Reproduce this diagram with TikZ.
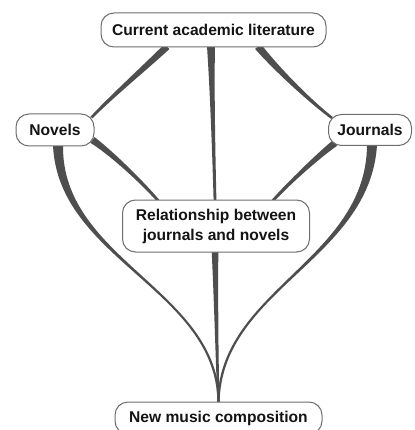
\documentclass[tikz,border=0pt]{standalone}
\usepackage{fontspec}
\setmainfont{Liberation Sans}
\usetikzlibrary{calc,backgrounds}
\definecolor{connc}{RGB}{78,78,78}
\definecolor{boxc}{RGB}{110,110,110}
\definecolor{txtc}{RGB}{20,20,20}
% tapered connector: #1 start, #2 ctrl1, #3 ctrl2, #4 end, #5-#8 half widths
\newcommand\taper[8]{%
  \fill[conn] ($(#1)!#5!90:(#2)$) .. controls ($(#2)!#6!-90:(#1)$) and ($(#3)!#7!90:(#4)$) .. ($(#4)!#8!-90:(#3)$)
    -- ($(#4)!#8!90:(#3)$) .. controls ($(#3)!#7!-90:(#4)$) and ($(#2)!#6!90:(#1)$) .. ($(#1)!#5!-90:(#2)$) -- cycle;}
\begin{document}
\begin{tikzpicture}[x=1pt,y=-1pt,
  box/.style={draw=boxc, line width=1pt, fill=white, rounded corners=13pt,
    font=\fontsize{15.6}{20}\selectfont\bfseries, text=txtc, inner sep=0pt, align=center},
  conn/.style={fill=connc}]
\useasboundingbox (0,0) rectangle (414,430);
\node[box, minimum width=225pt, minimum height=34pt] (cal) at (213.5,30) {Current academic literature};
\node[box, minimum width=78pt, minimum height=32pt] (nov) at (55,130) {Novels};
\node[box, minimum width=83pt, minimum height=31pt] (jou) at (370,130) {Journals};
\node[box, minimum width=187pt, minimum height=52pt] (rel) at (216,226) {Relationship between\\journals and novels};
\node[box, minimum width=207pt, minimum height=32pt] (nmc) at (218.5,418) {New music composition};
% connector end points on the nodes
\coordinate (a1) at ($(cal.south)+(-46.5,-1)$);
\coordinate (a2) at ($(cal.south)+(44.5,-1)$);
\coordinate (a3) at ($(cal.south)+(-2.5,-1)$);
\coordinate (b1) at ($(nov.north east)+(-3,4)$);
\coordinate (a4) at ($(nov.east)+(-2,10)$);
\coordinate (a6) at ($(nov.south)+(3,-1)$);
\coordinate (b2) at ($(jou.north west)+(4,4)$);
\coordinate (a5) at ($(jou.west)+(7,13)$);
\coordinate (a7) at ($(jou.south)+(2,-1)$);
\coordinate (b3) at ($(rel.north)+(-1,1)$);
\coordinate (b4) at ($(rel.north)+(-58,1)$);
\coordinate (b5) at ($(rel.north)+(57,1)$);
\coordinate (a8) at ($(rel.south)+(-1,-1)$);
\coordinate (b6) at ($(nmc.north)+(0,1)$);
% control points
\coordinate (k1a) at (150,63);  \coordinate (k1b) at (110,98);
\coordinate (k2a) at (274,66);  \coordinate (k2b) at (306,98);
\coordinate (k3a) at (212,90);  \coordinate (k3b) at (214,160);
\coordinate (k4a) at (110,152); \coordinate (k4b) at (140,180);
\coordinate (k5a) at (318,156); \coordinate (k5b) at (290,182);
\coordinate (k6a) at (60,260);  \coordinate (k6b) at (218,290);
\coordinate (k7a) at (368,260); \coordinate (k7b) at (220,290);
\coordinate (k8a) at (216,300); \coordinate (k8b) at (217,360);
\begin{pgfonlayer}{background}
\fill[white] (0,0) rectangle (414,430);
\taper{a1}{k1a}{k1b}{b1}{3.5pt}{3pt}{1.7pt}{1.3pt}
\taper{a2}{k2a}{k2b}{b2}{3.8pt}{3pt}{1.7pt}{1.3pt}
\taper{a3}{k3a}{k3b}{b3}{4pt}{2pt}{1.5pt}{1.4pt}
\taper{a4}{k4a}{k4b}{b4}{3.5pt}{2.5pt}{1.7pt}{1.4pt}
\taper{a5}{k5a}{k5b}{b5}{3.5pt}{2.5pt}{1.7pt}{1.4pt}
\taper{a6}{k6a}{k6b}{b6}{5pt}{1.6pt}{1.3pt}{1.1pt}
\taper{a7}{k7a}{k7b}{b6}{5pt}{1.6pt}{1.3pt}{1.1pt}
\taper{a8}{k8a}{k8b}{b6}{3.3pt}{2pt}{1.3pt}{1.1pt}
\end{pgfonlayer}
\end{tikzpicture}
\end{document}
